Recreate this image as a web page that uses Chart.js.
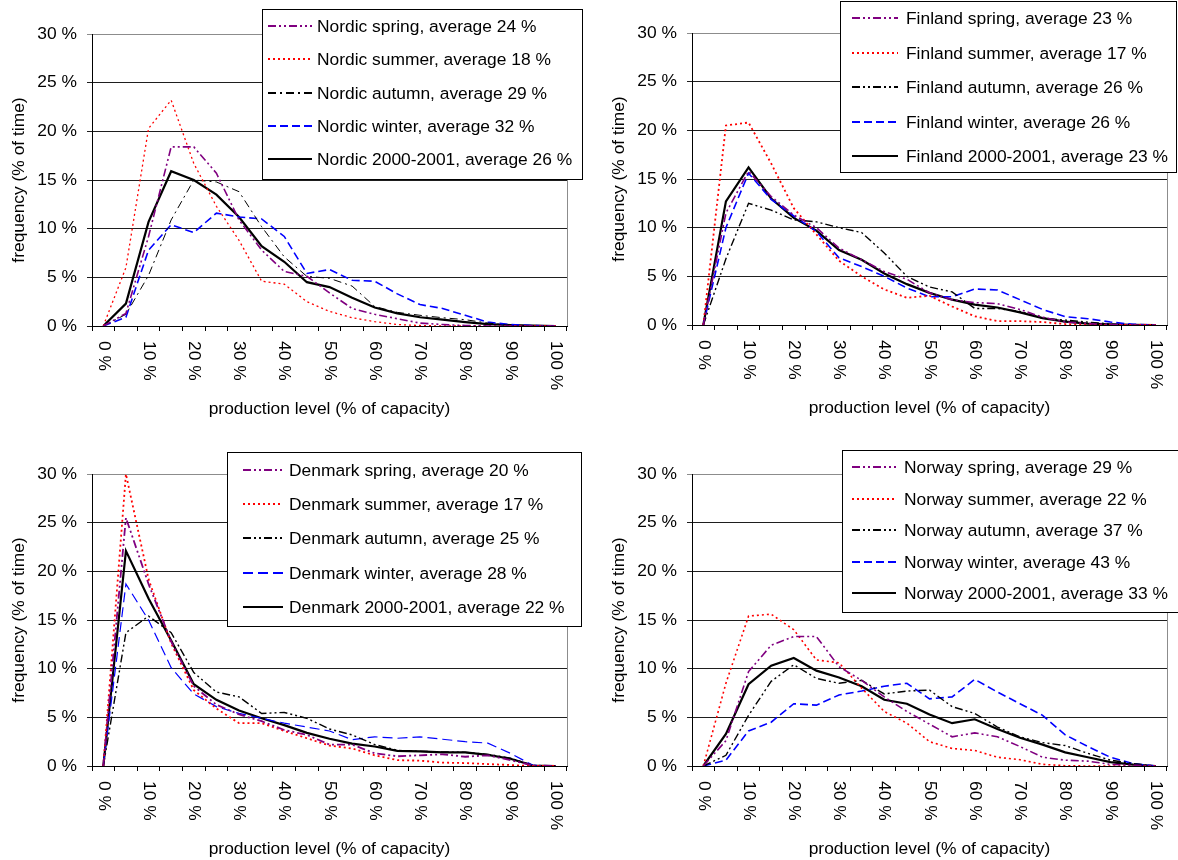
<!DOCTYPE html>
<html>
<head>
<meta charset="utf-8">
<title>Wind power production level distributions</title>
<script src="https://cdn.jsdelivr.net/npm/chart.js@4.4.1/dist/chart.umd.min.js"></script>
<style>
  html, body { margin: 0; padding: 0; background: #fff; width: 1178px; height: 860px; overflow: hidden; }
  canvas { position: absolute; }
</style>
</head>
<body>
<canvas id="nordic"  width="589" height="430" style="left:0px;top:0px"></canvas>
<canvas id="finland" width="589" height="430" style="left:600px;top:-1px"></canvas>
<canvas id="denmark" width="589" height="430" style="left:0px;top:440px"></canvas>
<canvas id="norway"  width="589" height="430" style="left:600px;top:440px"></canvas>
<script>
// Production level classes (% of capacity), 5 % steps
const categories = ['0 %','5 %','10 %','15 %','20 %','25 %','30 %','35 %','40 %','45 %','50 %',
                    '55 %','60 %','65 %','70 %','75 %','80 %','85 %','90 %','95 %','100 %'];
const xTickLabels = ['0 %','10 %','20 %','30 %','40 %','50 %','60 %','70 %','80 %','90 %','100 %'];
const yTickValues = [0, 5, 10, 15, 20, 25, 30];
const xTitle = 'production level (% of capacity)';
const yTitle = 'frequency (% of time)';

// Frequency (% of time) per production level class
const nordicSpring = [0, 1.3, 9.2, 18.4, 18.4, 15.7, 10.9, 7.8, 5.6, 5.1, 3.4, 1.8, 1.2, 0.75, 0.3, 0.15, 0.05, 0, 0, 0, 0];
const nordicSummer = [0, 6.0, 20.3, 23.2, 16.7, 12.3, 8.8, 4.6, 4.3, 2.5, 1.5, 0.85, 0.45, 0.15, 0.05, 0, 0, 0, 0, 0, 0];
const nordicAutumn = [0, 1.2, 5.2, 10.9, 15.0, 14.8, 13.8, 10.2, 7.1, 5.1, 4.9, 4.1, 2.0, 1.4, 1.1, 0.85, 0.65, 0.3, 0.07, 0, 0];
const nordicWinter = [0, 0.9, 7.8, 10.4, 9.6, 11.6, 11.2, 11.0, 9.2, 5.4, 5.8, 4.7, 4.6, 3.3, 2.2, 1.8, 1.1, 0.4, 0.15, 0.05, 0];
const nordicTotal  = [0, 2.3, 10.7, 15.9, 15.0, 13.5, 11.2, 8.2, 6.6, 4.5, 4.0, 2.9, 1.9, 1.3, 0.9, 0.65, 0.4, 0.2, 0.1, 0.05, 0];

const finlandSpring = [0, 11.5, 15.8, 13.2, 11.3, 10.0, 7.9, 6.7, 5.5, 4.7, 3.3, 2.6, 2.3, 2.2, 1.6, 0.8, 0.3, 0.15, 0.05, 0, 0];
const finlandSummer = [0, 20.5, 20.8, 16.6, 12.0, 9.3, 6.6, 5.0, 3.65, 2.8, 3.0, 1.9, 0.9, 0.4, 0.4, 0.3, 0.1, 0, 0, 0, 0];
const finlandAutumn = [0, 6.8, 12.5, 11.8, 10.8, 10.6, 10.0, 9.5, 7.4, 5.0, 3.9, 3.4, 1.7, 1.7, 1.4, 0.7, 0.5, 0.3, 0.1, 0, 0];
const finlandWinter = [0, 10.0, 15.6, 12.9, 11.2, 9.6, 6.9, 6.0, 5.0, 3.8, 2.9, 2.9, 3.7, 3.6, 2.6, 1.6, 0.85, 0.65, 0.3, 0.07, 0];
const finlandTotal  = [0, 12.7, 16.2, 13.0, 11.0, 9.7, 7.7, 6.7, 5.3, 4.2, 3.3, 2.6, 2.1, 1.8, 1.3, 0.7, 0.35, 0.15, 0.07, 0.02, 0];

const denmarkSpring = [0, 25.5, 18.7, 12.8, 8.2, 6.3, 5.3, 4.6, 3.7, 3.2, 2.2, 2.2, 1.3, 1.0, 1.1, 1.2, 0.95, 1.1, 0.6, 0.05, 0];
const denmarkSummer = [0, 30.0, 19.2, 12.6, 7.8, 5.9, 4.4, 4.4, 3.6, 2.85, 2.1, 1.8, 1.1, 0.6, 0.55, 0.35, 0.3, 0.2, 0.1, 0, 0];
const denmarkAutumn = [0, 13.7, 15.4, 13.7, 9.6, 7.6, 7.1, 5.4, 5.5, 4.9, 3.8, 3.2, 2.2, 1.6, 1.5, 1.45, 1.4, 1.2, 0.8, 0.05, 0];
const denmarkWinter = [0, 18.7, 15.0, 10.1, 7.4, 6.1, 5.4, 4.9, 4.4, 4.0, 3.6, 2.7, 3.0, 2.85, 3.0, 2.75, 2.5, 2.35, 1.3, 0.07, 0];
const denmarkTotal  = [0, 22.1, 17.2, 12.9, 8.4, 6.8, 5.7, 4.9, 4.2, 3.4, 2.8, 2.3, 2.0, 1.55, 1.5, 1.4, 1.4, 1.15, 0.75, 0.05, 0];

const norwaySpring = [0, 2.6, 9.7, 12.4, 13.3, 13.3, 10.2, 8.8, 7.1, 5.6, 4.3, 3.0, 3.4, 3.0, 2.0, 0.9, 0.6, 0.5, 0.17, 0.07, 0];
const norwaySummer = [0, 8.5, 15.4, 15.6, 14.0, 10.9, 10.6, 8.0, 5.6, 4.4, 2.5, 1.8, 1.6, 0.9, 0.65, 0.17, 0.03, 0, 0, 0, 0];
const norwayAutumn = [0, 1.1, 5.2, 8.7, 10.4, 9.0, 8.5, 8.8, 7.4, 7.7, 7.8, 6.1, 5.4, 4.0, 3.0, 2.4, 2.1, 1.3, 0.6, 0.24, 0];
const norwayWinter = [0, 0.6, 3.6, 4.5, 6.4, 6.25, 7.3, 7.7, 8.2, 8.5, 6.9, 7.1, 8.9, 7.6, 6.4, 5.2, 3.2, 2.0, 0.9, 0.24, 0];
const norwayTotal  = [0, 3.3, 8.4, 10.3, 11.1, 9.8, 9.1, 8.2, 6.8, 6.4, 5.3, 4.4, 4.8, 3.8, 2.9, 2.2, 1.4, 0.9, 0.4, 0.14, 0];

// Legend entries
const nordicLabels  = ['Nordic spring, average 24 %', 'Nordic summer, average 18 %', 'Nordic autumn, average 29 %', 'Nordic winter, average 32 %', 'Nordic 2000-2001, average 26 %'];
const finlandLabels = ['Finland spring, average 23 %', 'Finland summer, average 17 %', 'Finland autumn, average 26 %', 'Finland winter, average 26 %', 'Finland 2000-2001, average 23 %'];
const denmarkLabels = ['Denmark spring, average 20 %', 'Denmark summer, average 17 %', 'Denmark autumn, average 25 %', 'Denmark winter, average 28 %', 'Denmark 2000-2001, average 22 %'];
const norwayLabels  = ['Norway spring, average 29 %', 'Norway summer, average 22 %', 'Norway autumn, average 37 %', 'Norway winter, average 43 %', 'Norway 2000-2001, average 33 %'];

const FONT_FAMILY = '"Liberation Sans", Arial, Helvetica, sans-serif';
const FONT_SIZE = 17.4;
const FONT = FONT_SIZE + 'px ' + FONT_FAMILY;
Chart.defaults.font.family = FONT_FAMILY;
Chart.defaults.font.size = FONT_SIZE;
Chart.defaults.color = '#000';

const PURPLE = '#800080', RED = '#ff0000', BLUE = '#0000ff', BLACK = '#000000';
const DASH_DOT_DOT = [8, 3, 2, 3, 2, 3];
const DASH_DOT = [8, 4, 2, 4];
const DOTS = [2, 3];
const DASHES = [8, 4];

// Thin grey frame line on the right side of the plot area
const plotFrame = {
  id: 'plotFrame',
  beforeDatasetsDraw(chart) {
    const a = chart.chartArea, ctx = chart.ctx;
    const x = Math.round(a.right) + 0.5;
    ctx.save();
    ctx.strokeStyle = '#8c8c8c';
    ctx.lineWidth = 1;
    ctx.beginPath();
    ctx.moveTo(x, a.top);
    ctx.lineTo(x, a.bottom);
    ctx.stroke();
    ctx.restore();
  }
};

// Category labels written downwards (rotated clockwise), every second class
const rotatedXLabels = {
  id: 'rotatedXLabels',
  afterDraw(chart) {
    const xs = chart.scales.x, ctx = chart.ctx;
    ctx.save();
    ctx.font = FONT;
    ctx.fillStyle = '#000';
    ctx.textAlign = 'left';
    ctx.textBaseline = 'middle';
    xTickLabels.forEach((lab, j) => {
      const px = xs.getPixelForValue(j * 2);
      ctx.save();
      ctx.translate(px, xs.top + 15);
      ctx.rotate(Math.PI / 2);
      ctx.fillText(lab, 0, 0);
      ctx.restore();
    });
    ctx.restore();
  }
};

// Boxed legend placed over the upper right part of the plot
const boxLegend = {
  id: 'boxLegend',
  afterDraw(chart, args, o) {
    const ctx = chart.ctx;
    const x1 = o.left, y1 = o.top, x2 = o.right, y2 = o.bottom;
    ctx.save();
    ctx.fillStyle = '#fff';
    ctx.fillRect(x1, y1, x2 - x1, y2 - y1);
    ctx.strokeStyle = '#000';
    ctx.lineWidth = 1;
    ctx.strokeRect(x1 + 0.5, y1 + 0.5, x2 - x1, y2 - y1);
    ctx.font = FONT;
    ctx.textAlign = 'left';
    ctx.textBaseline = 'middle';
    chart.data.datasets.forEach((ds, k) => {
      const y = Math.round(o.rowY + k * o.rowStep);
      ctx.strokeStyle = ds.borderColor;
      ctx.lineWidth = Math.max(2, ds.borderWidth);
      ctx.setLineDash(ds.borderDash || []);
      ctx.beginPath();
      ctx.moveTo(o.sampleFrom, y);
      ctx.lineTo(o.sampleTo, y);
      ctx.stroke();
      ctx.setLineDash([]);
      ctx.fillStyle = '#000';
      ctx.fillText(ds.label, o.textX, y + 1);
    });
    ctx.restore();
  }
};

function makeChart(id, series, labels, styles, legend) {
  return new Chart(document.getElementById(id), {
    type: 'line',
    data: {
      labels: categories,
      datasets: series.map((d, k) => ({
        label: labels[k],
        data: d,
        borderColor: styles[k].color,
        borderWidth: styles[k].width,
        borderDash: styles[k].dash,
        pointRadius: 0,
        tension: 0,
        fill: false
      }))
    },
    options: {
      responsive: false,
      animation: false,
      events: [],
      layout: { padding: { top: 34, right: 22, left: 0, bottom: 0 } },
      plugins: {
        legend: { display: false },
        tooltip: { enabled: false },
        boxLegend: legend
      },
      scales: {
        x: {
          type: 'category',
          offset: true,
          grid: { offset: true, drawOnChartArea: false, drawTicks: true, tickLength: 5, color: '#000' },
          border: { color: '#000', width: 1 },
          ticks: { display: false },
          title: { display: true, text: xTitle, color: '#000', font: { size: FONT_SIZE }, padding: { top: 0, bottom: 10 } },
          afterFit(s) { s.height = 104; }
        },
        y: {
          min: yTickValues[0],
          max: yTickValues[yTickValues.length - 1],
          afterBuildTicks(s) { s.ticks = yTickValues.map(v => ({ value: v })); },
          ticks: { padding: 10, color: '#000', callback: v => v + ' %' },
          grid: { color: c => (c.tick && c.tick.value === 30 ? '#8c8c8c' : '#1e1e1e'), tickLength: 5 },
          border: { color: '#000', width: 1 },
          title: { display: true, text: yTitle, color: '#000', font: { size: FONT_SIZE }, padding: { top: 9, bottom: 0 } },
          afterFit(s) { s.width = 92; }
        }
      }
    },
    plugins: [plotFrame, rotatedXLabels, boxLegend]
  });
}

makeChart('nordic',
  [nordicSpring, nordicSummer, nordicAutumn, nordicWinter, nordicTotal], nordicLabels,
  [{ color: PURPLE, width: 1.6, dash: DASH_DOT_DOT },
   { color: RED, width: 1.3, dash: DOTS },
   { color: BLACK, width: 1, dash: DASH_DOT },
   { color: BLUE, width: 1.6, dash: DASHES },
   { color: BLACK, width: 2.2, dash: [] }],
  { left: 262, top: 9, right: 582, bottom: 179, rowY: 26, rowStep: 33.3, sampleFrom: 268, sampleTo: 312, textX: 317 });

makeChart('finland',
  [finlandSpring, finlandSummer, finlandAutumn, finlandWinter, finlandTotal], finlandLabels,
  [{ color: PURPLE, width: 1.6, dash: DASH_DOT_DOT },
   { color: RED, width: 1.8, dash: DOTS },
   { color: BLACK, width: 1.4, dash: DASH_DOT_DOT },
   { color: BLUE, width: 1.6, dash: DASHES },
   { color: BLACK, width: 2.2, dash: [] }],
  { left: 240, top: 2, right: 576, bottom: 173, rowY: 19, rowStep: 34.5, sampleFrom: 252, sampleTo: 298, textX: 306 });

makeChart('denmark',
  [denmarkSpring, denmarkSummer, denmarkAutumn, denmarkWinter, denmarkTotal], denmarkLabels,
  [{ color: PURPLE, width: 1.8, dash: DASH_DOT_DOT },
   { color: RED, width: 1.8, dash: DOTS },
   { color: BLACK, width: 1.4, dash: DASH_DOT_DOT },
   { color: BLUE, width: 1.2, dash: [10, 5] },
   { color: BLACK, width: 2.2, dash: [] }],
  { left: 227, top: 12, right: 581, bottom: 186, rowY: 30, rowStep: 34.2, sampleFrom: 243, sampleTo: 283, textX: 289 });

makeChart('norway',
  [norwaySpring, norwaySummer, norwayAutumn, norwayWinter, norwayTotal], norwayLabels,
  [{ color: PURPLE, width: 1.6, dash: DASH_DOT_DOT },
   { color: RED, width: 1.6, dash: DOTS },
   { color: BLACK, width: 1.4, dash: DASH_DOT_DOT },
   { color: BLUE, width: 1.6, dash: DASHES },
   { color: BLACK, width: 2.2, dash: [] }],
  { left: 242, top: 10, right: 578, bottom: 172, rowY: 27, rowStep: 31.5, sampleFrom: 252, sampleTo: 296, textX: 304 });
</script>
</body>
</html>
